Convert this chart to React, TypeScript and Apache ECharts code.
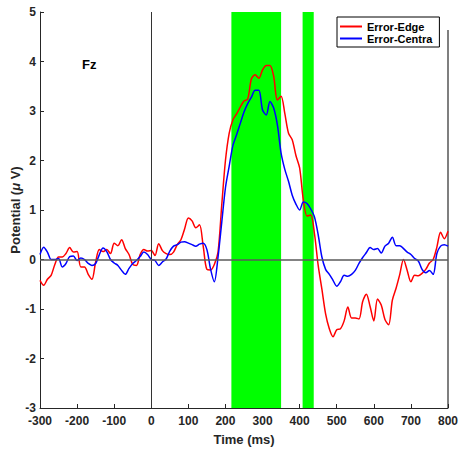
import React, { useEffect, useRef } from "react";
import * as echarts from "echarts";

const startTime = -300;
const stepMs = 10;

const edgeValues = [
  -0.42, -0.52, -0.40, -0.32, -0.10, 0.05, 0.05, 0.12, 0.24, 0.15,
  0.16, -0.15, -0.15, -0.30, -0.40, -0.05, 0.20, 0.16, 0.20, 0.12,
  0.33, 0.28, 0.40, 0.22, 0.10, -0.10, -0.12, 0.10, 0.20, 0.17,
  0.18, 0.08, 0.32, 0.18, 0.12, 0.10, 0.15, 0.30, 0.40, 0.62,
  0.84, 0.78, 0.64, 0.70, 0.27, -0.20, -0.21, -0.10, 0.15, 1.10,
  2.0, 2.55, 2.82, 2.94, 3.08, 3.20, 3.24, 3.65, 3.73, 3.66,
  3.83, 3.92, 3.92, 3.70, 3.22, 3.30, 2.95, 2.55, 2.42, 2.10,
  1.85, 1.20, 0.88, 0.90, 0.52, -0.12, -0.60, -1.10, -1.40, -1.56,
  -1.42, -1.40, -1.24, -0.96, -1.18, -1.18, -1.20, -0.85, -0.70, -0.95,
  -1.24, -0.80, -0.92, -1.21, -1.32, -0.82, -0.58, -0.30, 0.00, -0.22,
  -0.45, -0.32, -0.33, -0.28, -0.20, -0.07, 0.00, 0.25, 0.55, 0.42,
  0.57,
];

const centraValues = [
  0.10, 0.25, 0.15, 0.00, 0.00, 0.02, -0.15, -0.08, 0.06, 0.07,
  -0.02, 0.03, 0.00, -0.08, -0.12, -0.08, 0.10, 0.23, 0.16, 0.00,
  -0.07, -0.12, -0.22, -0.30, -0.18, -0.08, -0.02, 0.06, 0.15, 0.10,
  0.00, -0.02, -0.12, -0.05, 0.01, 0.17, 0.27, 0.30, 0.35, 0.36,
  0.33, 0.30, 0.27, 0.31, 0.33, 0.20, -0.20, -0.45, 0.05, 0.75,
  1.45, 1.88, 2.30, 2.52, 2.75, 2.98, 3.15, 3.28, 3.42, 3.42,
  3.02, 2.92, 3.19, 3.06, 2.72, 2.15, 1.82, 1.58, 1.30, 1.12,
  1.00, 1.16, 1.13, 1.02, 0.86, 0.50, 0.05, -0.20, -0.30, -0.42,
  -0.54, -0.45, -0.32, -0.34, -0.30, -0.22, -0.08, 0.04, 0.14, 0.24,
  0.20, 0.22, 0.13, 0.27, 0.33, 0.45, 0.28, 0.28, 0.22, 0.15,
  0.10, 0.02, -0.03, -0.20, -0.27, -0.22, -0.30, 0.12, 0.27, 0.30,
  0.27,
];

const significantWindows: [number, number][] = [
  [216, 350],
  [408, 438],
];

const seriesNames = ["Error-Edge", "Error-Centra"];
const channelLabel = "Fz";

const font = "'Liberation Sans', Arial, Helvetica, sans-serif";
const inkColor = "#262626";

export default function App() {
  const ref = useRef<HTMLDivElement>(null);

  useEffect(() => {
    if (!ref.current) return;
    const chart = echarts.init(ref.current, undefined, { renderer: "svg" });
    const times = edgeValues.map((_, i) => startTime + i * stepMs);
    const edgeData = times.map((t, i) => [t, edgeValues[i]]);
    const centraData = times.map((t, i) => [t, centraValues[i]]);

    chart.setOption({
      animation: false,
      backgroundColor: "#ffffff",
      title: {
        text: channelLabel,
        left: 82,
        top: 58,
        padding: 0,
        textStyle: { fontFamily: font, fontSize: 13, fontWeight: "bold", color: "#000" },
      },
      legend: {
        data: seriesNames,
        orient: "vertical",
        left: 337,
        top: 17,
        icon: "rect",
        itemWidth: 22,
        itemHeight: 2,
        itemGap: 1,
        padding: [4, 7, 3, 3],
        borderColor: "#000",
        borderWidth: 1,
        backgroundColor: "#fff",
        textStyle: { fontFamily: font, fontSize: 11, fontWeight: "bold", color: "#000" },
      },
      grid: { left: 40, right: 14, top: 12, bottom: 41, outerBoundsMode: "none", containLabel: false },
      xAxis: {
        type: "value",
        min: -300,
        max: 800,
        interval: 100,
        name: "Time (ms)",
        nameLocation: "middle",
        nameGap: 25,
        nameMoveOverlap: false,
        nameTextStyle: { fontFamily: font, fontSize: 13, fontWeight: "bold", color: inkColor },
        axisLine: { show: true, onZero: false, lineStyle: { color: inkColor, width: 1 } },
        axisTick: { show: true, inside: true, length: 4, lineStyle: { color: inkColor } },
        axisLabel: { fontFamily: font, fontSize: 12, fontWeight: "bold", color: inkColor, margin: 7 },
        splitLine: { show: false },
      },
      yAxis: {
        type: "value",
        min: -3,
        max: 5,
        interval: 1,
        name: "Potential ({i|μ} V)",
        nameLocation: "middle",
        nameGap: 18,
        nameMoveOverlap: false,
        nameTextStyle: {
          fontFamily: font,
          fontSize: 13,
          fontWeight: "bold",
          color: inkColor,
          rich: { i: { fontFamily: font, fontSize: 13, fontWeight: "bold", fontStyle: "italic", color: inkColor } },
        },
        axisLine: { show: true, onZero: false, lineStyle: { color: inkColor, width: 1 } },
        axisTick: { show: true, inside: true, length: 4, lineStyle: { color: inkColor } },
        axisLabel: { fontFamily: font, fontSize: 12, fontWeight: "bold", color: inkColor, margin: 4 },
        splitLine: { show: false },
      },
      graphic: [
        {
          type: "line",
          shape: { x1: 448, y1: 30, x2: 448, y2: 408 },
          style: { stroke: "#555", lineWidth: 1.5 },
          silent: true,
        },
      ],
      series: [
        {
          type: "line",
          data: [],
          z: 1,
          silent: true,
          markLine: {
            silent: true,
            symbol: ["none", "none"],
            label: { show: false },
            data: [
              { xAxis: 0, lineStyle: { color: "#333", width: 1, type: "solid" } },
              { yAxis: 0, lineStyle: { color: "#5a5a5a", width: 1.5, type: "solid" } },
            ],
          },
        },
        {
          type: "line",
          data: [],
          z: 2,
          silent: true,
          markArea: {
            silent: true,
            itemStyle: { color: "#00ff00", opacity: 1 },
            data: significantWindows.map(([a, b]) => [{ xAxis: a }, { xAxis: b }]),
          },
        },
        {
          name: seriesNames[0],
          type: "line",
          data: edgeData,
          z: 3,
          symbol: "none",
          smooth: 0.3,
          lineStyle: { color: "#ff0000", width: 1.5 },
          itemStyle: { color: "#ff0000" },
        },
        {
          name: seriesNames[1],
          type: "line",
          data: centraData,
          z: 4,
          symbol: "none",
          smooth: 0.3,
          lineStyle: { color: "#0000ff", width: 1.5 },
          itemStyle: { color: "#0000ff" },
        },
      ],
    });
    return () => chart.dispose();
  }, []);

  return <div ref={ref} style={{ width: 462, height: 449, position: "absolute", left: 0, top: 0 }} />;
}
